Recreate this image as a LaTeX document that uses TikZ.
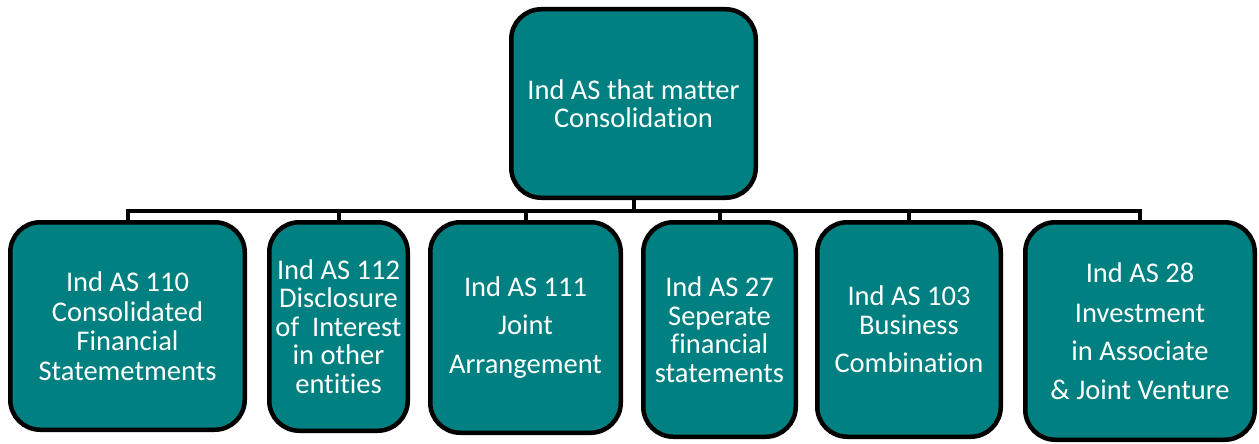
\documentclass[tikz,border=0pt]{standalone}
\usepackage{fontspec}
\setmainfont{Carlito}[Ligatures=NoCommon]
\definecolor{teal1}{RGB}{0,128,128}
\tikzset{
  box/.style={draw=black, fill=teal1, line width=4.5pt, rounded corners=30pt,
    text=white, align=center, inner sep=0pt,
    font=\fontsize{28.5}{28.5}\selectfont},
  conn/.style={draw=black, line width=4pt}
}
\begin{document}
\begin{tikzpicture}[x=1pt,y=-1pt]
\useasboundingbox (0,0) rectangle (1259,444);
\node[box, minimum width=244.5pt, minimum height=188.5pt] (top) at (633.5,103.5) {Ind AS that matter\\Consolidation};
\node[box, minimum width=234.5pt, minimum height=207.5pt] (b1) at (127.5,326) {Ind AS 110\\[1pt]Consolidated\\[1pt]Financial\\[1pt]Statemetments};
\node[box, minimum width=138.5pt, minimum height=208.5pt] (b2) at (338.5,326.5) {Ind AS 112\\Disclosure\\of~ Interest\\in other\\entities};
\node[box, minimum width=190.5pt, minimum height=210.5pt] (b3) at (525.5,327.5) {Ind AS 111\\[10pt]Joint\\[10pt]Arrangement};
\node[box, minimum width=152.5pt, minimum height=214.5pt] (b4) at (719.5,329.5) {Ind AS 27\\Seperate\\financial\\statements};
\node[box, minimum width=183.5pt, minimum height=214.5pt] (b5) at (909,329.5) {Ind AS 103\\Business\\[10pt]Combination};
\node[box, minimum width=229.5pt, minimum height=217.5pt] (b6) at (1140,331) {Ind AS 28\\[11pt]Investment\\[10pt]in Associate\\[10pt]\&~Joint Venture};
\coordinate (bus) at (633.5,211);
\draw[conn] (top.south) -- (bus);
\foreach \b in {b1,b2,b3,b4,b5,b6} {
  \draw[conn] (bus) -| (\b.north);
}
\end{tikzpicture}
\end{document}
